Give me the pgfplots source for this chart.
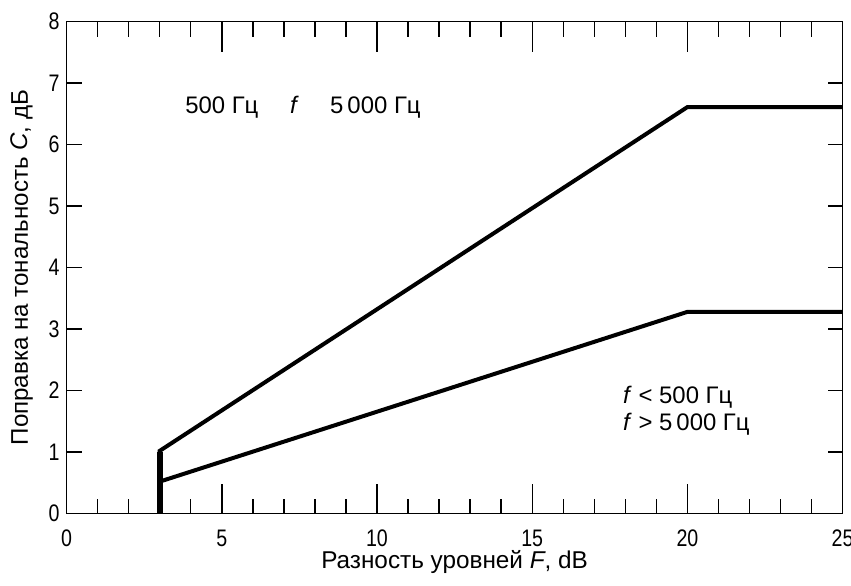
\documentclass[border=0pt]{standalone}
\usepackage{fontspec}
\setmainfont{Liberation Sans}
\newfontfamily\narrowfont{Liberation Sans}[FakeStretch=0.82]
\usepackage{pgfplots}
\pgfplotsset{compat=1.18}
\begin{document}
\begin{tikzpicture}
\begin{axis}[
  name=ax,
  scale only axis,
  width=388bp, height=246bp,
  xmin=0, xmax=25, ymin=0, ymax=8,
  xtick={0,5,...,25},
  minor xtick={0,...,25},
  ytick={0,...,8},
  minor ytick={0,...,8},
  major y tick style={draw=none},
  tick align=inside,
  major tick length=15bp,
  minor tick length=7.5bp,
  axis line style={line width=0.7bp},
  tick style={line width=0.7bp, black},
  /pgf/number format/assume math mode=true,
  tick label style={font=\narrowfont\fontsize{12}{14}\selectfont},
  xticklabel style={yshift=-4.6bp},
  xlabel={Разность уровней \textit{F}, dB},
  ylabel={Поправка на тональность \textit{C}, дБ},
  xlabel style={font=\fontsize{12.2}{14}\selectfont, at={(axis description cs:0.5,0)}, anchor=base, yshift=-27.4bp},
  ylabel style={font=\fontsize{12.1}{14}\selectfont, at={(axis description cs:0,0.5)}, anchor=base, yshift=19.3bp},
  clip=false,
]
\addplot[black, line width=2bp] coordinates {(3,0) (3,1.02) (20,6.61) (25,6.61)};
\addplot[black, line width=2bp] coordinates {(3,0.52) (20,3.28) (25,3.28)};
\addplot[black, line width=3bp] coordinates {(3,0) (3,1.0)};
\node[anchor=base west, font=\fontsize{12}{14}\selectfont, inner sep=0pt] at (axis cs:3.81,6.51) {500 Гц};
\node[anchor=base west, font=\fontsize{12}{14}\selectfont, inner sep=0pt] at (axis cs:7.19,6.51) {\textit{f}};
\node[anchor=base west, font=\fontsize{12}{14}\selectfont, inner sep=0pt] at (axis cs:8.48,6.51) {5\,000 Гц};
\node[anchor=base west, font=\fontsize{12}{14}\selectfont, inner sep=0pt] at (axis cs:17.92,1.79) {\textit{f} < 500 Гц};
\node[anchor=base west, font=\fontsize{12}{14}\selectfont, inner sep=0pt] at (axis cs:17.92,1.356) {\textit{f} > 5\,000 Гц};
\end{axis}
\pgfresetboundingbox
\path[use as bounding box] ([shift={(-33.3bp,-35.8bp)}]ax.south west) rectangle ([shift={(4.2bp,10.8bp)}]ax.north east);
\end{tikzpicture}
\end{document}
